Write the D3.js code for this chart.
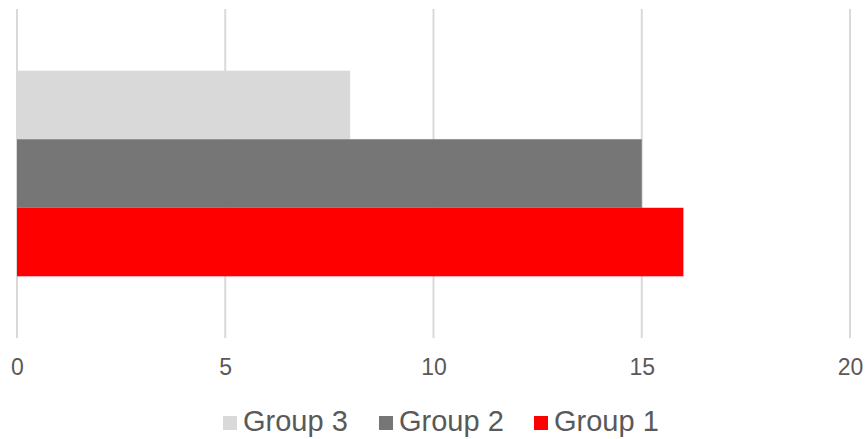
<!DOCTYPE html>
<html lang="en">
<head>
  <meta charset="UTF-8">
  <title>Grouped bar</title>
  <style>
    body { margin: 0; background: #fff; }
    text { font-family: "Liberation Sans", Arial, sans-serif; }
  </style>
</head>
<body>
  <script src="https://d3js.org/d3.v7.min.js"></script>
  <script>
    const categories = ["Category 1"];
    const groups = ["Group 3", "Group 2", "Group 1"];
    const values = { "Group 1": [16], "Group 2": [15], "Group 3": [8] };
    const colors = { "Group 1": "#ff0000", "Group 2": "#767676", "Group 3": "#d9d9d9" };
    const xTicks = [0, 5, 10, 15, 20];

    const width = 865;
    const height = 439;

    const svg = d3.select("body").append("svg").attr("width", width).attr("height", height);

    const xScale = d3.scaleLinear().domain([0, 20]).range([17, 850]);
    const yScale = d3.scaleBand().domain(categories).range([9, 338]).paddingInner(0).paddingOuter(0.3);
    const yInner = d3.scaleBand().domain(groups).range([0, yScale.bandwidth()]);

    // gridlines
    svg.append("g")
      .selectAll("line")
      .data(xTicks)
      .enter()
      .append("line")
      .attr("x1", function(d) { return xScale(d); })
      .attr("x2", function(d) { return xScale(d); })
      .attr("y1", 9)
      .attr("y2", 338)
      .attr("stroke", "#d9d9d9")
      .attr("stroke-width", 2);

    // bars
    categories.forEach(function(c, i) {
      svg.append("g")
        .selectAll("rect")
        .data(groups)
        .enter()
        .append("rect")
        .attr("x", xScale(0))
        .attr("y", function(g) { return yScale(c) + yInner(g); })
        .attr("width", function(g) { return xScale(values[g][i]) - xScale(0); })
        .attr("height", yInner.bandwidth())
        .attr("fill", function(g) { return colors[g]; });
    });

    // x axis labels
    const axisX = d3.axisBottom(xScale).tickValues(xTicks).tickSize(0).tickPadding(0);
    const ax = svg.append("g").attr("transform", "translate(0,358)").call(axisX);
    ax.select(".domain").remove();
    ax.selectAll("text")
      .attr("dy", "0.72em")
      .attr("font-size", 23)
      .attr("font-family", "Liberation Sans, Arial, sans-serif")
      .attr("fill", "#595959");

    // legend
    const legendItems = [
      { name: "Group 3", x: 223 },
      { name: "Group 2", x: 379 },
      { name: "Group 1", x: 534 }
    ];
    const legend = svg.append("g");
    legendItems.forEach(function(d) {
      legend.append("rect")
        .attr("x", d.x)
        .attr("y", 416)
        .attr("width", 14)
        .attr("height", 14)
        .attr("fill", colors[d.name]);
      legend.append("text")
        .attr("x", d.x + 20)
        .attr("y", 431)
        .attr("font-size", 29)
        .attr("fill", "#595959")
        .text(d.name);
    });
  </script>
</body>
</html>
